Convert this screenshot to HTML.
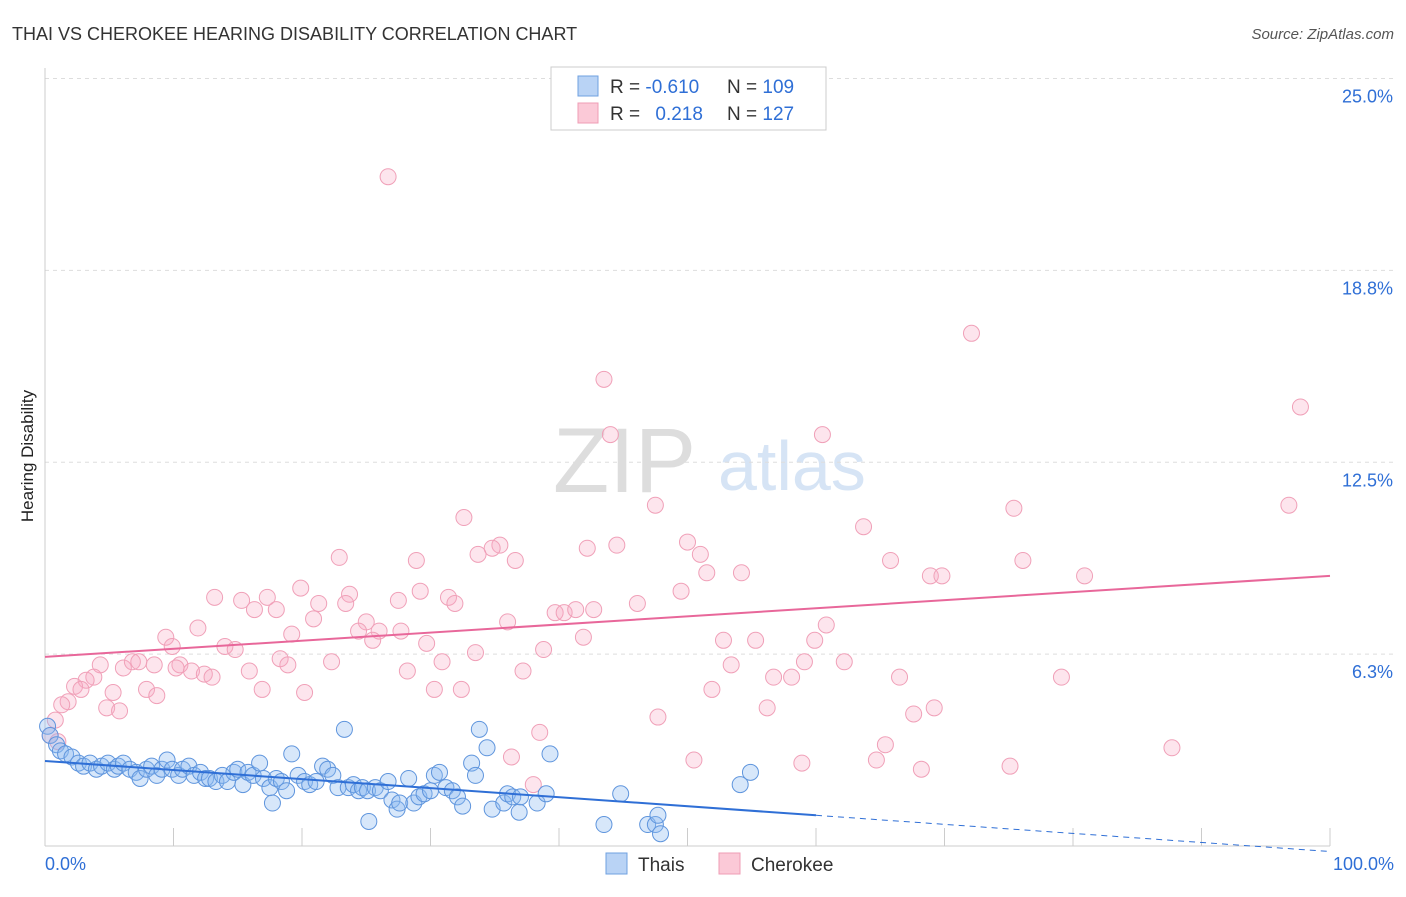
<!DOCTYPE html>
<html><head><meta charset="utf-8">
<style>
body{margin:0;background:#fff;font-family:"Liberation Sans",sans-serif;}
svg text{font-family:"Liberation Sans",sans-serif;}
</style></head>
<body>
<svg id="chart" width="1406" height="892" xmlns="http://www.w3.org/2000/svg">
<text x="12" y="40" font-size="18" fill="#333">THAI VS CHEROKEE HEARING DISABILITY CORRELATION CHART</text>
<text x="1394" y="39" font-size="15" fill="#555" font-style="italic" text-anchor="end">Source: ZipAtlas.com</text>
<text x="33" y="456" font-size="17" fill="#222" transform="rotate(-90 33 456)" text-anchor="middle">Hearing Disability</text>
<g>
<text x="553" y="492" font-size="92" fill="#ddd" font-family="Liberation Serif,serif">ZIP</text>
<text x="718" y="490" font-size="70" fill="#d6e4f5">atlas</text>
</g>
<g id="grid"></g><g id="axes"></g><g id="marks"></g>
<g>
<rect x="551" y="67" width="275" height="63" fill="#fff" stroke="#ccc"/>
<rect x="578" y="76" width="20" height="20" fill="#b9d3f5" stroke="#6fa0e0"/>
<rect x="578" y="103" width="20" height="20" fill="#fbc9d7" stroke="#ef9db5"/>
<text x="610" y="93" font-size="19" fill="#333">R = <tspan fill="#2f6fd6">-0.610</tspan></text>
<text x="727" y="93" font-size="19" fill="#333">N = <tspan fill="#2f6fd6">109</tspan></text>
<text x="610" y="120" font-size="19" fill="#333">R = <tspan fill="#2f6fd6" dx="10">0.218</tspan></text>
<text x="727" y="120" font-size="19" fill="#333">N = <tspan fill="#2f6fd6">127</tspan></text>
</g>
<g>
<rect x="606" y="853" width="21" height="21" fill="#b9d3f5" stroke="#6fa0e0"/>
<text x="638" y="871" font-size="19" fill="#333">Thais</text>
<rect x="719" y="853" width="21" height="21" fill="#fbc9d7" stroke="#ef9db5"/>
<text x="751" y="871" font-size="19" fill="#333">Cherokee</text>
</g>
<text x="45" y="870" font-size="18" fill="#2f6fd6">0.0%</text>
<text x="1394" y="870" font-size="18" fill="#2f6fd6" text-anchor="end">100.0%</text>
</svg>
<script>
const yTicks=[6.25,12.5,18.75,25];
const yTickLabels=["6.3%","12.5%","18.8%","25.0%"];
const xTicks=[0,10,20,30,40,50,60,70,80,90,100];
const thaiX=[0.2,0.4,0.9,1.2,1.6,2.1,2.6,3.0,3.5,4.0,4.4,4.9,5.4,5.7,6.1,6.6,7.1,7.4,7.9,8.3,8.7,9.1,9.5,9.9,10.4,10.7,11.2,11.6,12.1,12.5,12.8,13.3,13.8,14.2,14.7,15.0,15.4,15.8,16.2,16.7,17.0,17.5,17.7,18.0,18.4,18.8,19.2,19.7,20.2,20.6,21.1,21.6,22.0,22.4,22.8,23.3,23.6,24.0,24.4,24.7,25.1,25.2,25.7,26.1,26.7,27.0,27.4,27.6,28.3,28.7,29.1,29.5,30.0,30.3,30.7,31.2,31.7,32.1,32.5,33.2,33.5,33.8,34.4,34.8,35.7,36.0,36.4,36.9,37.0,38.3,39.0,39.3,43.5,44.8,46.9,47.5,47.7,47.9,54.1,54.9];
const thaiY=[3.9,3.6,3.3,3.1,3.0,2.9,2.7,2.6,2.7,2.5,2.6,2.7,2.5,2.6,2.7,2.5,2.4,2.2,2.5,2.6,2.3,2.5,2.8,2.5,2.3,2.5,2.6,2.3,2.4,2.2,2.2,2.1,2.3,2.1,2.4,2.5,2.0,2.4,2.3,2.7,2.2,1.9,1.4,2.2,2.1,1.8,3.0,2.3,2.1,2.0,2.1,2.6,2.5,2.3,1.9,3.8,1.9,2.0,1.8,1.9,1.8,0.8,1.9,1.8,2.1,1.5,1.2,1.4,2.2,1.4,1.6,1.7,1.8,2.3,2.4,1.9,1.8,1.6,1.3,2.7,2.3,3.8,3.2,1.2,1.4,1.7,1.6,1.1,1.6,1.4,1.7,3.0,0.7,1.7,0.7,0.7,1.0,0.4,2.0,2.4];
const cherX=[26.7,72.1,43.5,97.7,44.0,60.5,47.5,75.4,96.8,32.6,63.7,50.0,35.4,34.8,42.2,44.5,51.0,33.7,36.6,22.9,28.9,65.8,76.1,51.5,54.2,68.9,69.8,80.9,19.9,49.5,23.7,29.2,31.4,13.2,15.3,17.3,21.3,23.4,27.5,31.9,46.1,18.0,16.3,39.7,40.4,41.3,42.7,20.9,25.0,36.0,11.9,26.0,27.7,60.8,24.4,19.2,41.9,9.4,25.5,52.8,55.3,59.9,29.7,38.8,14.0,14.8,9.9,33.5,18.3,22.3,30.9,59.1,62.2,4.3,6.1,6.8,7.3,8.5,10.5,18.9,53.4,10.2,11.4,12.4,13.0,15.9,28.2,37.2,3.8,3.2,56.7,58.1,66.5,79.1,2.3,2.8,5.3,7.9,8.7,16.9,20.2,30.3,32.4,51.9,1.8,1.3,4.8,5.8,56.2,69.2,67.6,47.7,0.8,38.5,0.4,1.0,65.4,87.7,36.3,50.5,58.9,64.7,68.2,75.1,38.0];
const cherY=[21.8,16.7,15.2,14.3,13.4,13.4,11.1,11.0,11.1,10.7,10.4,9.9,9.8,9.7,9.7,9.8,9.5,9.5,9.3,9.4,9.3,9.3,9.3,8.9,8.9,8.8,8.8,8.8,8.4,8.3,8.2,8.3,8.1,8.1,8.0,8.1,7.9,7.9,8.0,7.9,7.9,7.7,7.7,7.6,7.6,7.7,7.7,7.4,7.3,7.3,7.1,7.0,7.0,7.2,7.0,6.9,6.8,6.8,6.7,6.7,6.7,6.7,6.6,6.4,6.5,6.4,6.5,6.3,6.1,6.0,6.0,6.0,6.0,5.9,5.8,6.0,6.0,5.9,5.9,5.9,5.9,5.8,5.7,5.6,5.5,5.7,5.7,5.7,5.5,5.4,5.5,5.5,5.5,5.5,5.2,5.1,5.0,5.1,4.9,5.1,5.0,5.1,5.1,5.1,4.7,4.6,4.5,4.4,4.5,4.5,4.3,4.2,4.1,3.7,3.6,3.4,3.3,3.2,2.9,2.8,2.7,2.8,2.5,2.6,2.0];
const thaiTrend=[2.77,-0.0295];
const cherTrend=[6.16,0.0264];
const NS="http://www.w3.org/2000/svg";
const X0=45,X1=1330,Y0=846,PPU=30.7;
function sx(v){return X0+(X1-X0)*v/100;}
function sy(v){return Y0-v*PPU;}
function mk(tag,attrs,parent){const e=document.createElementNS(NS,tag);for(const k in attrs)e.setAttribute(k,attrs[k]);parent.appendChild(e);return e;}
const grid=document.getElementById('grid'),axes=document.getElementById('axes'),marks=document.getElementById('marks');
yTicks.forEach((t,i)=>{
  const l=mk('line',{x1:X0,x2:1394,y1:sy(t),y2:sy(t),stroke:'#ddd','stroke-dasharray':'4,4'},grid);
  
  
  const tx=mk('text',{x:1393,y:sy(t)+24,'font-size':18,fill:'#2f6fd6','text-anchor':'end'},grid);
  tx.textContent=yTickLabels[i];
  
  
});
const ya=mk('line',{x1:X0,x2:X0,y1:68,y2:Y0,stroke:'#ccc'},axes);


const xa=mk('line',{x1:X0,x2:X1,y1:Y0,y2:Y0,stroke:'#ccc'},axes);


xTicks.forEach(t=>{
  const l=mk('line',{x1:sx(t),x2:sx(t),y1:Y0-18,y2:Y0,stroke:'#ccc'},axes);
  
  
});
function dots(xs,ys,fill,stroke,name){
  xs.forEach((x,i)=>{
    const c=mk('circle',{cx:sx(x),cy:sy(ys[i]),r:8,fill:fill,stroke:stroke,'stroke-width':1},marks);
    
    
  });
}
dots(cherX,cherY,'rgba(248,170,195,0.3)','#f0a0b8','cherokee-point');
dots(thaiX,thaiY,'rgba(140,185,240,0.35)','#5f95dd','thais-point');
const ct=mk('line',{x1:sx(0),y1:sy(cherTrend[0]),x2:sx(100),y2:sy(cherTrend[0]+100*cherTrend[1]),stroke:'#e8679a','stroke-width':2},marks);


const tt=mk('line',{x1:sx(0),y1:sy(thaiTrend[0]),x2:sx(60),y2:sy(thaiTrend[0]+60*thaiTrend[1]),stroke:'#2f6fd6','stroke-width':2},marks);


const td=mk('line',{x1:sx(60),y1:sy(thaiTrend[0]+60*thaiTrend[1]),x2:sx(100),y2:sy(thaiTrend[0]+100*thaiTrend[1]),stroke:'#2f6fd6','stroke-width':1,'stroke-dasharray':'6,5'},marks);


</script>
</body></html>
